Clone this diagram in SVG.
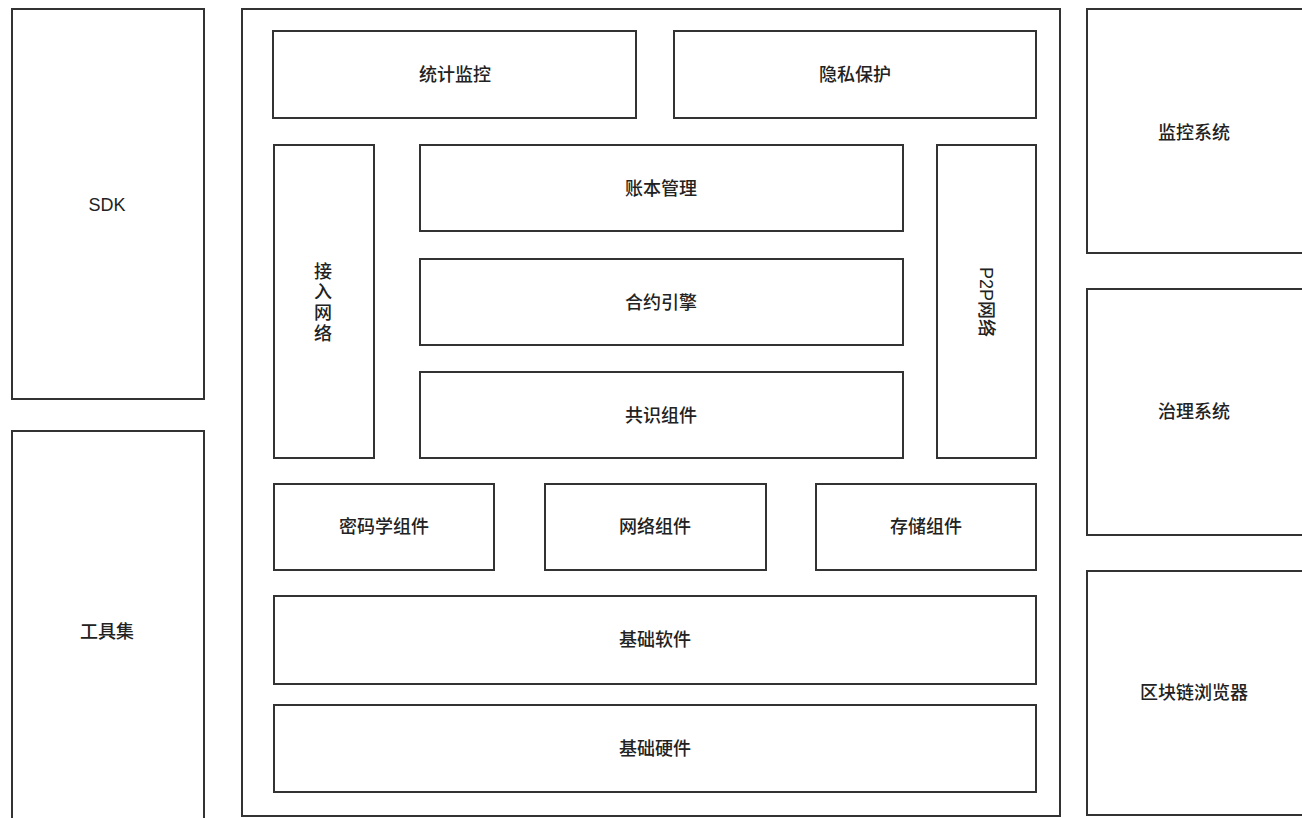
<svg xmlns="http://www.w3.org/2000/svg" width="1302" height="818" viewBox="0 0 1302 818">
<style>
.b{fill:#fff;stroke:#333;stroke-width:2}
.t{font-family:"Liberation Sans","Noto Sans CJK SC",sans-serif;font-size:18px;font-weight:500;fill:#222;text-anchor:middle;dominant-baseline:central}
</style>
<rect width="1302" height="818" fill="#fff"/>
<g id="sdk"><rect class="b" x="12" y="9" width="192" height="390"/><text class="t" x="107" y="205">SDK</text></g>
<g id="tools"><rect class="b" x="12" y="431" width="192" height="400"/><text class="t" x="107" y="632">工具集</text></g>
<g id="main"><rect class="b" x="242" y="9" width="818" height="807"/></g>
<g id="stats"><rect class="b" x="273" y="31" width="363" height="87"/><text class="t" x="455" y="75">统计监控</text></g>
<g id="privacy"><rect class="b" x="674" y="31" width="362" height="87"/><text class="t" x="855" y="75">隐私保护</text></g>
<g id="access"><rect class="b" x="274" y="145" width="100" height="313"/>
<text class="t" x="323" y="272">接</text><text class="t" x="323" y="292">入</text><text class="t" x="323" y="313">网</text><text class="t" x="323" y="334">络</text></g>
<g id="ledger"><rect class="b" x="420" y="145" width="483" height="86"/><text class="t" x="661" y="189">账本管理</text></g>
<g id="contract"><rect class="b" x="420" y="259" width="483" height="86"/><text class="t" x="661" y="303">合约引擎</text></g>
<g id="consensus"><rect class="b" x="420" y="372" width="483" height="86"/><text class="t" x="661" y="416">共识组件</text></g>
<g id="p2p"><rect class="b" x="937" y="145" width="99" height="313"/><text class="t" transform="translate(986 302) rotate(90)">P2P网络</text></g>
<g id="crypto"><rect class="b" x="274" y="484" width="220" height="86"/><text class="t" x="384" y="527">密码学组件</text></g>
<g id="network"><rect class="b" x="545" y="484" width="221" height="86"/><text class="t" x="655" y="527">网络组件</text></g>
<g id="storage"><rect class="b" x="816" y="484" width="220" height="86"/><text class="t" x="926" y="527">存储组件</text></g>
<g id="software"><rect class="b" x="274" y="596" width="762" height="88"/><text class="t" x="655" y="640">基础软件</text></g>
<g id="hardware"><rect class="b" x="274" y="705" width="762" height="87"/><text class="t" x="655" y="749">基础硬件</text></g>
<g id="monitor"><rect class="b" x="1087" y="9" width="230" height="244"/><text class="t" x="1194" y="133">监控系统</text></g>
<g id="govern"><rect class="b" x="1087" y="289" width="230" height="246"/><text class="t" x="1194" y="412">治理系统</text></g>
<g id="explorer"><rect class="b" x="1087" y="571" width="230" height="244"/><text class="t" x="1194" y="693">区块链浏览器</text></g>
<g id="connectors"/>
</svg>
